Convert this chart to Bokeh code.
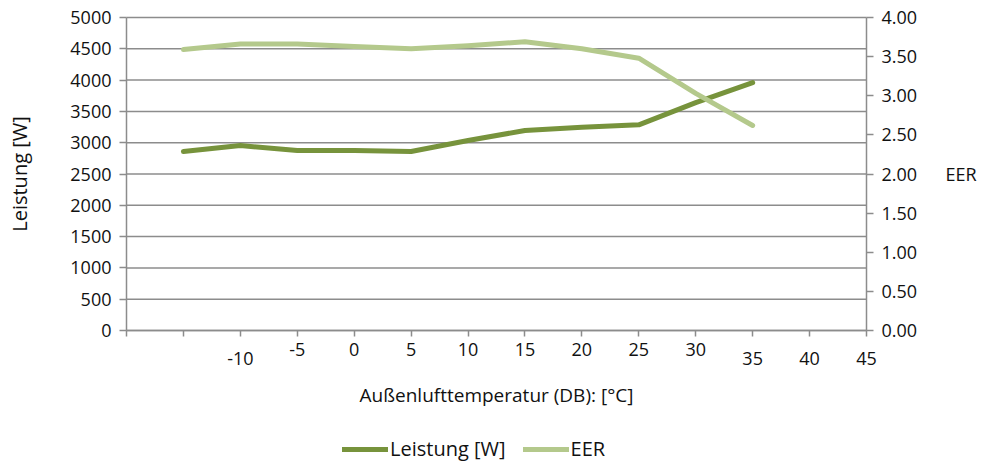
from bokeh.plotting import figure
from bokeh.models import (Range1d, LinearAxis, FixedTicker, Label, Legend,
                          LegendItem, NumeralTickFormatter)
from bokeh.embed import file_html
from bokeh.resources import INLINE

# ---- data ----
temps = [-15, -10, -5, 0, 5, 10, 15, 20, 25, 30, 35]
leistung = [2860, 2955, 2875, 2875, 2860, 3035, 3195, 3245, 3285, 3640, 3960]
eer = [3.59, 3.66, 3.66, 3.63, 3.60, 3.64, 3.69, 3.60, 3.48, 3.03, 2.62]

x_ticks = [-20, -15, -10, -5, 0, 5, 10, 15, 20, 25, 30, 35, 40, 45]
x_tick_labels = ["", "", "-10", "-5", "0", "5", "10", "15", "20", "25", "30", "35", "40", "45"]
x_lowered = ["-10", "35", "40", "45"]
left_ticks = [0, 500, 1000, 1500, 2000, 2500, 3000, 3500, 4000, 4500, 5000]
right_ticks = [0.0, 0.5, 1.0, 1.5, 2.0, 2.5, 3.0, 3.5, 4.0]

x_title = "Außenlufttemperatur (DB): [°C]"
left_title = "Leistung [W]"
right_title = "EER"
series_names = ["Leistung [W]", "EER"]

# ---- layout (pixels) ----
W, H = 981, 465
PL, PR, PT, PB = 126, 866, 17, 330   # plot area edges on the canvas

x0, x1 = x_ticks[0], x_ticks[-1]
y0, y1 = left_ticks[0], left_ticks[-1]
e0, e1 = right_ticks[0], right_ticks[-1]
xs = (PR - PL) / (x1 - x0)
ys = (PB - PT) / (y1 - y0)
es = (PB - PT) / (e1 - e0)

# ---- style ----
FONT = "Open Sans"
TXT = "#111111"
GRID = "#8c8c8c"
DARK = "#77933c"
LIGHT = "#b4c98c"

p = figure(width=W, height=H, output_backend="svg", toolbar_location=None,
           title=None, min_border=0, x_axis_location=None, y_axis_location=None,
           x_range=Range1d(x0 - PL / xs, x1 + (W - PR) / xs),
           y_range=Range1d(y0 - (H - PB) / ys, y1 + PT / ys))
p.outline_line_color = None
p.background_fill_color = "white"
p.border_fill_color = "white"
p.grid.visible = False
p.extra_y_ranges = {"eer": Range1d(e0 - (H - PB) / es, e1 + PT / es)}

# horizontal gridlines over the plot area
p.segment(x0=[x0] * len(left_ticks), x1=[x1] * len(left_ticks),
          y0=left_ticks, y1=left_ticks, line_color=GRID, line_width=1.5)


def style_axis(ax):
    ax.axis_line_color = GRID
    ax.axis_line_width = 1.5
    ax.major_tick_line_color = GRID
    ax.major_tick_line_width = 1.5
    ax.major_tick_out = 7
    ax.major_tick_in = 0
    ax.minor_tick_line_color = None
    ax.major_label_text_font = FONT
    ax.major_label_text_font_size = "18px"
    ax.major_label_text_color = TXT
    ax.axis_label_text_font = FONT
    ax.axis_label_text_font_style = "normal"
    ax.axis_label_text_color = TXT


# left axis
ly = LinearAxis(fixed_location=x0, bounds=(y0, y1),
                ticker=FixedTicker(ticks=left_ticks))
style_axis(ly)
ly.major_label_standoff = 8
ly.axis_label = left_title
ly.axis_label_text_font_size = "20px"
ly.axis_label_standoff = 34
p.add_layout(ly, "left")

# right axis
ry = LinearAxis(y_range_name="eer", fixed_location=x1, bounds=(e0, e1),
                ticker=FixedTicker(ticks=right_ticks),
                formatter=NumeralTickFormatter(format="0.00"))
style_axis(ry)
ry.major_label_standoff = 8
p.add_layout(ry, "right")

# bottom axis
bx = LinearAxis(fixed_location=y0, bounds=(x0, x1),
                ticker=FixedTicker(ticks=x_ticks))
style_axis(bx)
bx.major_tick_out = 6
bx.major_label_overrides = {t: ("" if lab in x_lowered else lab)
                            for t, lab in zip(x_ticks, x_tick_labels)}
bx.major_label_standoff = 6
bx.axis_label = x_title
bx.axis_label_text_font_size = "19px"
bx.axis_label_standoff = 23
p.add_layout(bx, "below")

for t, lab in zip(x_ticks, x_tick_labels):
    if lab in x_lowered:
        p.add_layout(Label(x=t, y=y0, y_offset=-28, text=lab, text_align="center",
                           text_baseline="middle", text_font=FONT,
                           text_font_size="18px", text_color=TXT))

p.add_layout(Label(x=x1, y=2.0, x_offset=79, y_range_name="eer", text=right_title,
                   text_align="left", text_baseline="middle", text_font=FONT,
                   text_font_size="18px", text_color=TXT))

# series
r1 = p.line(temps, leistung, line_color=DARK, line_width=5, line_cap="round",
            line_join="round")
r2 = p.line(temps, eer, y_range_name="eer", line_color=LIGHT, line_width=5,
            line_cap="round", line_join="round")

legend = Legend(items=[LegendItem(label=series_names[0], renderers=[r1]),
                       LegendItem(label=series_names[1], renderers=[r2])],
                orientation="horizontal", location=(342, 3),
                glyph_width=46, glyph_height=20, label_standoff=2, spacing=17,
                padding=0, margin=0, border_line_color=None,
                background_fill_alpha=0, label_text_font=FONT,
                label_text_font_size="20px", label_text_color=TXT)
p.add_layout(legend)

open("out.html", "w").write(file_html(p, INLINE))
